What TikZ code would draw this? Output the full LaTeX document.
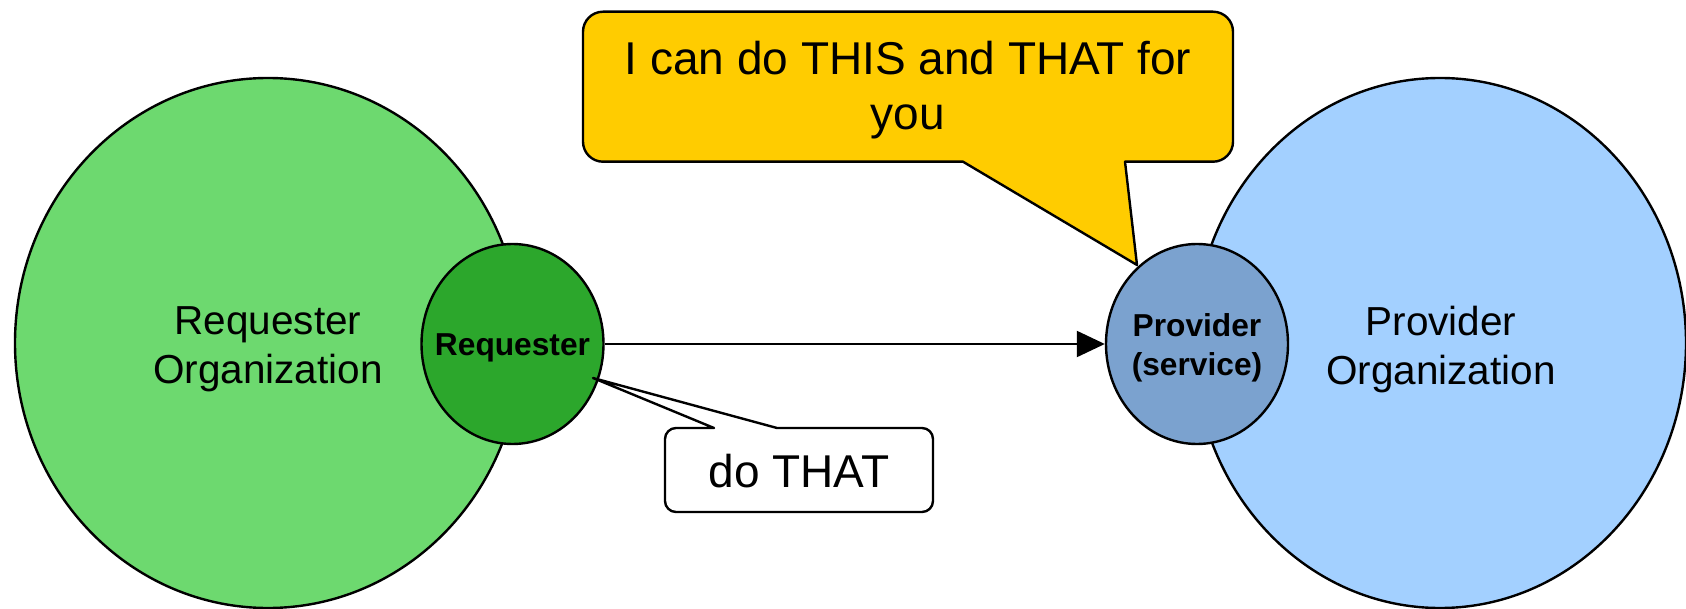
\documentclass[tikz,border=0pt]{standalone}
\usepackage{fontspec}
\setmainfont{Liberation Sans}
\usetikzlibrary{shapes.geometric,arrows.meta}
\definecolor{orggreen}{HTML}{6DD96F}
\definecolor{reqgreen}{HTML}{2CA72C}
\definecolor{provblue}{HTML}{7BA2CF}
\definecolor{orgblue}{HTML}{A3D0FF}
\definecolor{calloutyellow}{HTML}{FFCC00}
\begin{document}
\begin{tikzpicture}[x=1bp,y=-1bp,line join=round,
  orgshape/.style={ellipse,draw=black,line width=2.4bp,inner sep=0pt},
  orgtext/.style={align=center,inner sep=0pt,font=\fontsize{40.5bp}{49.4bp}\selectfont},
  actortext/.style={align=center,inner sep=0pt,font=\fontsize{31.7bp}{39bp}\selectfont\bfseries},
  bubbletext/.style={align=center,inner sep=0pt,font=\fontsize{46bp}{55bp}\selectfont},
  bubble/.style={draw=black,line width=2.4bp},
  flow/.style={draw=black,line width=2.2bp,-{Triangle[length=28bp,width=26bp]}}]
\useasboundingbox (0,0) rectangle (1686,609);
% organizations
\node[orgshape,fill=orggreen,minimum width=506bp,minimum height=530bp] (reqorg) at (268,343) {};
\node[orgshape,fill=orgblue,minimum width=492bp,minimum height=530bp] (provorg) at (1440,343) {};
\node[orgtext] (reqorglabel) at (268,349.5) {Requester\\Organization};
\node[orgtext] (provorglabel) at (1441,349.5) {Provider\\Organization};
% actors
\node[orgshape,fill=reqgreen,minimum width=182bp,minimum height=200bp] (req) at (512.5,344) {};
\node[orgshape,fill=provblue,minimum width=182bp,minimum height=200bp] (prov) at (1197,344) {};
\node[actortext] (reqlabel) at (512.5,348) {Requester};
\node[actortext] (provlabel) at (1197,348) {Provider\\(service)};
% message
\draw[flow] (req) -- (prov);
% callout of the provider
\draw[bubble,fill=calloutyellow] (1125,161.7) [rounded corners=20bp] -- (1233,161.7) -- (1233,11.7) -- (583,11.7) -- (583,161.7) [sharp corners] -- (963,161.7) -- (1137,265) -- cycle;
\node[bubbletext] (offer) at (908,90.5) {I can do THIS and THAT for\\you};
% callout of the requester
\draw[bubble,fill=white] (777,428) [rounded corners=11bp] -- (933,428) -- (933,512) -- (665,512) -- (665,428) [sharp corners] -- (714,428) -- (593,378) -- cycle;
\node[bubbletext] (ask) at (799,471.5) {do THAT};
\end{tikzpicture}
\end{document}
